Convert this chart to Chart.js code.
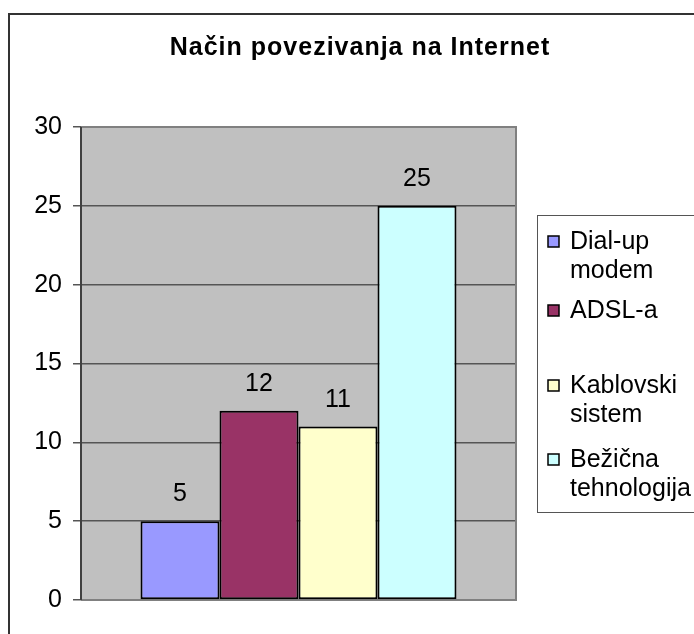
<!DOCTYPE html>
<html>
<head>
<meta charset="utf-8">
<script src="https://cdn.jsdelivr.net/npm/chart.js@4/dist/chart.umd.min.js"></script>
<style>
html,body{margin:0;padding:0;background:#fff;}
#wrap{width:694px;height:634px;position:relative;}
</style>
</head>
<body>
<div id="wrap"><canvas id="c" width="694" height="634"></canvas></div>
<script>
const chartTitle = 'Način povezivanja na Internet';
const seriesNames = ['Dial-up modem', 'ADSL-a', 'Kablovski sistem', 'Bežična tehnologija'];
const seriesValues = [5, 12, 11, 25];
const seriesColors = ['#9999FF', '#993366', '#FFFFCC', '#CCFFFF'];
const yTicks = [0, 5, 10, 15, 20, 25, 30];

const FONT = "'Liberation Sans', Arial, sans-serif";
const FS = 25;

const datasets = seriesNames.map((name, i) => ({
  label: name,
  data: [seriesValues[i]],
  backgroundColor: seriesColors[i],
  borderColor: '#000',
  borderWidth: 2,
  borderSkipped: false,
  categoryPercentage: 0.7264,
  barPercentage: 1.0
}));

const excelPlugin = {
  id: 'excel',
  beforeDraw(chart) {
    const ctx = chart.ctx, a = chart.chartArea;
    ctx.save();
    ctx.fillStyle = '#fff';
    ctx.fillRect(0, 0, chart.width, chart.height);
    ctx.strokeStyle = '#333';
    ctx.lineWidth = 2;
    ctx.beginPath();
    ctx.moveTo(9, chart.height + 5);
    ctx.lineTo(9, 14);
    ctx.lineTo(chart.width + 5, 14);
    ctx.stroke();
    ctx.fillStyle = '#C0C0C0';
    ctx.fillRect(a.left, a.top, a.right - a.left, a.bottom - a.top);
    ctx.fillStyle = '#000';
    ctx.font = 'bold ' + FS + 'px ' + FONT;
    ctx.letterSpacing = '1px';
    ctx.textAlign = 'center';
    ctx.textBaseline = 'alphabetic';
    ctx.fillText(chartTitle, 360, 55);
    ctx.letterSpacing = '0px';
    ctx.restore();
  },
  beforeDatasetsDraw(chart) {
    const ctx = chart.ctx, a = chart.chartArea;
    ctx.save();
    ctx.strokeStyle = '#808080';
    ctx.lineWidth = 2;
    ctx.beginPath();
    ctx.moveTo(a.left, a.top);
    ctx.lineTo(a.right, a.top);
    ctx.lineTo(a.right, a.bottom);
    ctx.lineTo(a.left, a.bottom);
    ctx.stroke();
    ctx.strokeStyle = '#404040';
    ctx.lineWidth = 2;
    ctx.beginPath();
    ctx.moveTo(a.left, a.top);
    ctx.lineTo(a.left, a.bottom);
    ctx.stroke();
    ctx.restore();
  },
  afterDatasetsDraw(chart) {
    const ctx = chart.ctx;
    ctx.save();
    ctx.fillStyle = '#000';
    ctx.font = FS + 'px ' + FONT;
    ctx.textAlign = 'center';
    ctx.textBaseline = 'alphabetic';
    chart.data.datasets.forEach((ds, i) => {
      const meta = chart.getDatasetMeta(i);
      meta.data.forEach((bar, j) => {
        ctx.fillText(String(ds.data[j]), bar.x, bar.y - 20);
      });
    });
    ctx.restore();
  },
  afterDraw(chart) {
    const ctx = chart.ctx;
    ctx.save();
    ctx.fillStyle = '#fff';
    ctx.fillRect(537, 215, 200, 297);
    ctx.strokeStyle = '#555';
    ctx.lineWidth = 1;
    ctx.strokeRect(537.5, 215.5, 200, 297);
    const baselines = [249, 318, 393, 467];
    const lh = 29;
    ctx.font = FS + 'px ' + FONT;
    ctx.textAlign = 'left';
    ctx.textBaseline = 'alphabetic';
    chart.data.datasets.forEach((ds, i) => {
      const b = baselines[i];
      ctx.fillStyle = ds.backgroundColor;
      ctx.fillRect(548, b - 13, 11, 11);
      ctx.strokeStyle = '#000';
      ctx.lineWidth = 1.5;
      ctx.strokeRect(548, b - 13, 11, 11);
      ctx.fillStyle = '#000';
      ds.label.split(' ').forEach((line, k) => {
        ctx.fillText(line, 570, b + k * lh);
      });
    });
    ctx.restore();
  }
};

new Chart(document.getElementById('c'), {
  type: 'bar',
  data: { labels: [''], datasets },
  options: {
    responsive: false,
    animation: false,
    devicePixelRatio: 1,
    layout: { padding: { left: 0, right: 178, top: 127, bottom: 34 } },
    plugins: { legend: { display: false }, title: { display: false }, tooltip: { enabled: false } },
    scales: {
      x: { display: false },
      y: {
        min: 0, max: 30,
        afterFit(scale) { scale.width = 81; },
        afterBuildTicks(scale) { scale.ticks = yTicks.map(v => ({ value: v })); },
        ticks: { color: '#000', font: { family: FONT, size: FS }, padding: 11, autoSkip: false },
        grid: { color: '#555', lineWidth: 1.5, tickLength: 8, drawOnChartArea: true },
        border: { display: false }
      }
    }
  },
  plugins: [excelPlugin]
});
</script>
</body>
</html>
